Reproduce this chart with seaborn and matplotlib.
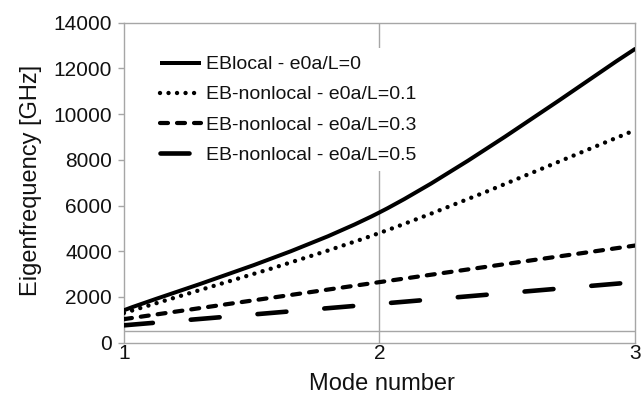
import numpy as np
import pandas as pd
import matplotlib
matplotlib.use("Agg")
import matplotlib.pyplot as plt
import seaborn as sns
from matplotlib.path import Path
from matplotlib.patches import PathPatch
from matplotlib.lines import Line2D

# ---- data ----
modes = [1, 2, 3]
series_names = ["EBlocal - e0a/L=0", "EB-nonlocal - e0a/L=0.1",
                "EB-nonlocal - e0a/L=0.3", "EB-nonlocal - e0a/L=0.5"]
eb_local_0 = [1420, 5700, 12850]
eb_nonlocal_01 = [1300, 4800, 9300]
eb_nonlocal_03 = [1030, 2650, 4250]
eb_nonlocal_05 = [760, 1700, 2650]
x_ticks = [1, 2, 3]
y_ticks = [0, 2000, 4000, 6000, 8000, 10000, 12000, 14000]
x_label = "Mode number"
y_label = "Eigenfrequency [GHz]"

values = [eb_local_0, eb_nonlocal_01, eb_nonlocal_03, eb_nonlocal_05]
df = pd.concat([pd.DataFrame({"mode": modes, "freq": v, "series": n})
                for n, v in zip(series_names, values)], ignore_index=True)

sns.set_theme(style="white")
plt.rcParams['font.family'] = ['Liberation Sans', 'DejaVu Sans']
plt.rcParams['lines.scale_dashes'] = False

PX = 0.72  # points per pixel at dpi=100
GRAY = "#a6a6a6"
TXT = "#111111"

styles = [
    dict(lw=4.0 * PX, ls="-"),
    dict(lw=4.4 * PX, ls=(0, (0.01, 8.5 * PX))),
    dict(lw=4.2 * PX, ls=(0, (8.0 * PX, 9.0 * PX))),
    dict(lw=4.6 * PX, ls=(0, (29.0 * PX, 38.0 * PX))),
]

fig = plt.figure(figsize=(6.42, 3.97), dpi=100)
ax = fig.add_axes([0.1931, 0.1368, 0.7960, 0.8060])

for name in series_names:
    sns.lineplot(data=df[df["series"] == name], x="mode", y="freq",
                 ax=ax, color="black", legend=False)


def smooth_path(x, y):
    P = np.column_stack([x, y]).astype(float)
    ext = np.vstack([P[:1], P, P[-1:]])
    verts = [P[0]]
    codes = [Path.MOVETO]
    for i in range(len(P) - 1):
        c1 = P[i] + (ext[i + 2] - ext[i]) / 6.0
        c2 = P[i + 1] - (ext[i + 3] - ext[i + 1]) / 6.0
        verts += [c1, c2, P[i + 1]]
        codes += [Path.CURVE4] * 3
    return Path(verts, codes)


lines = list(ax.lines)
for line, st in zip(lines, styles):
    xd, yd = line.get_data()
    line.remove()
    patch = PathPatch(smooth_path(xd, yd), facecolor="none", edgecolor="black",
                      linewidth=st["lw"], linestyle=st["ls"], capstyle="round",
                      joinstyle="round", zorder=3)
    ax.add_patch(patch)

ax.set_xlim(1, 3)
ax.set_ylim(0, 14000)
ax.set_xticks(x_ticks)
ax.set_xticklabels([str(t) for t in x_ticks])
ax.set_yticks(y_ticks)
ax.set_yticklabels([str(t) for t in y_ticks])

ax.axvline(2, color=GRAY, lw=1.0, zorder=1)
ax.axhline(500, color=GRAY, lw=1.0, zorder=1)

for sp in ax.spines.values():
    sp.set_visible(True)
    sp.set_color(GRAY)
    sp.set_linewidth(1.0)

ax.tick_params(axis="y", which="major", length=4.5, width=1.0, color=GRAY,
               direction="out", pad=4.0, labelsize=15, labelcolor=TXT, left=True)
ax.tick_params(axis="x", which="major", length=0, pad=1.0, labelsize=15,
               labelcolor=TXT, bottom=True)

ax.set_xlabel(x_label, fontsize=17, color=TXT)
ax.set_ylabel(y_label, fontsize=17, color=TXT)
ax.xaxis.set_label_coords(0.505, -0.096)
ax.yaxis.set_label_coords(-0.160, 0.507)

handles = [Line2D([], [], color="black", linewidth=st["lw"], linestyle=st["ls"],
                  dash_capstyle="round", solid_capstyle="butt")
           for st in styles]
leg = ax.legend(handles, series_names, loc="upper left",
                bbox_to_anchor=(0.237, 0.879), bbox_transform=fig.transFigure,
                fontsize=14, frameon=True, facecolor="white", edgecolor="none",
                framealpha=1.0, fancybox=False, borderaxespad=0, borderpad=0.4,
                handlelength=2.1, handletextpad=0.26, labelspacing=0.64)
for t in leg.get_texts():
    t.set_color(TXT)
leg.set_zorder(4)

fig.savefig("out.png", dpi=100)
